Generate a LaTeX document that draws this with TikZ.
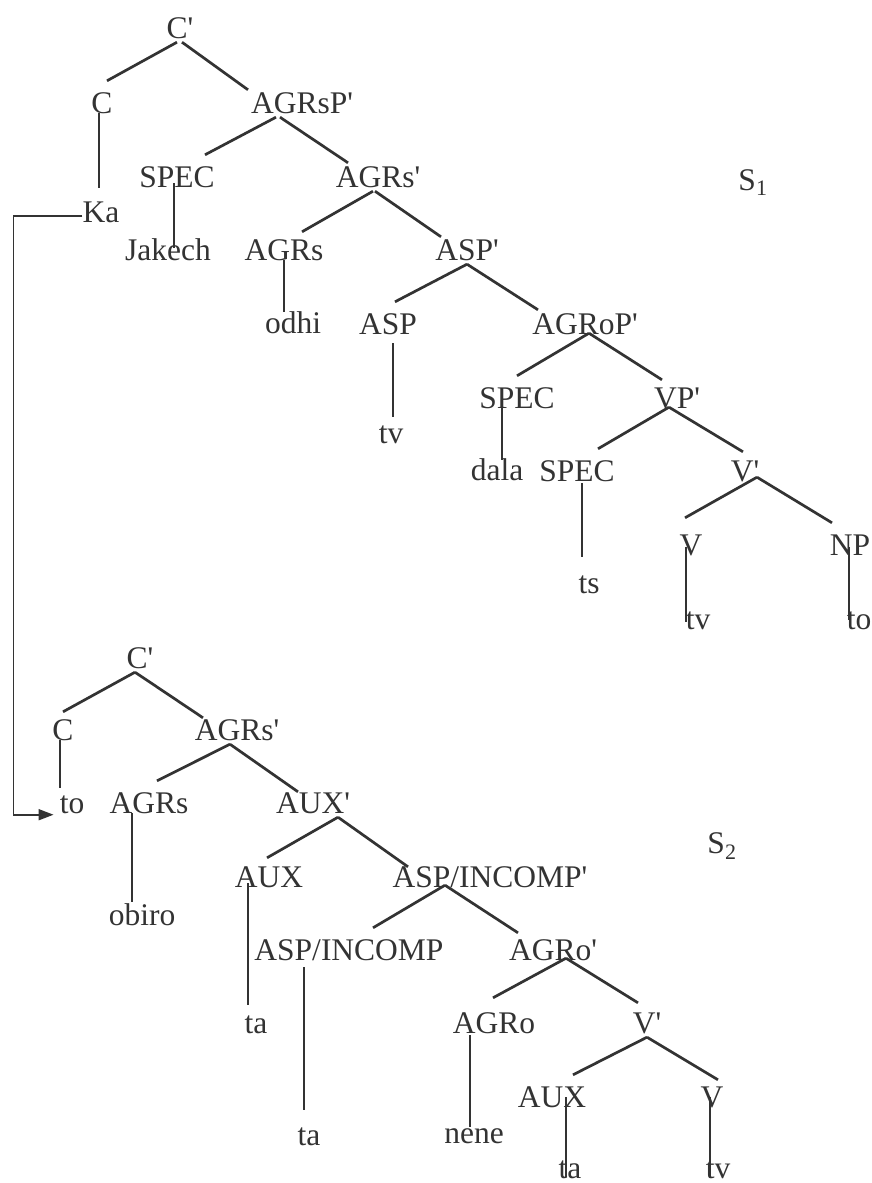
\documentclass[tikz,border=0pt]{standalone}
\usepackage{fontspec}
\setmainfont{Liberation Serif}
\usetikzlibrary{arrows.meta}
\definecolor{ink}{HTML}{333333}
\newcommand{\pbar}{\textquotesingle}

\begin{document}
\begin{tikzpicture}[x=1pt,y=-1pt,
    lbl/.style={inner sep=0pt,anchor=base,text height=32pt,text depth=4pt,
        text=ink,font=\fontsize{31.5}{36}\selectfont},
    branch/.style={draw=ink,line width=2.7pt},
    stem/.style={draw=ink,line width=1.7pt}]
    \useasboundingbox (0,0) rectangle (872,1183);

    % S1
    \node[lbl] at (180,38) (cA) {C\pbar};
    \node[lbl] at (102,113) (cB) {C};
    \node[lbl] at (302,113) (agrsp) {AGRsP\pbar};
    \node[lbl] at (101,222) (ka) {Ka};
    \node[lbl] at (177,187) (specA) {SPEC};
    \node[lbl] at (378,187) (agrsA) {AGRs\pbar};
    \node[lbl] at (168,260) (jakech) {Jakech};
    \node[lbl] at (284,260) (agrsB) {AGRs};
    \node[lbl] at (467,260) (aspp) {ASP\pbar};
    \node[lbl] at (293,333) (odhi) {odhi};
    \node[lbl] at (388,334) (asp) {ASP};
    \node[lbl] at (585,334) (agrop) {AGRoP\pbar};
    \node[lbl] at (391,443) (tvA) {tv};
    \node[lbl] at (517,408) (specB) {SPEC};
    \node[lbl] at (677,408) (vpp) {VP\pbar};
    \node[lbl] at (497,480) (dala) {dala};
    \node[lbl] at (577,481) (specC) {SPEC};
    \node[lbl] at (745,481) (vbarA) {V\pbar};
    \node[lbl] at (589,593) (ts) {ts};
    \node[lbl] at (691,555) (vA) {V};
    \node[lbl] at (850,555) (np) {NP};
    \node[lbl] at (698,629) (tvB) {tv};
    \node[lbl] at (859,629) (toA) {to};
    \node[lbl] at (753,190) (sA) {S\textsubscript{1}};

    \draw[branch] ([xshift=-3pt]cA.south) -- ([xshift=5pt]cB.north);
    \draw[branch] ([xshift=2pt]cA.south) -- ([xshift=-54pt,yshift=-9pt]agrsp.north);
    \draw[branch] ([xshift=-26pt]agrsp.south) -- ([xshift=28pt]specA.north);
    \draw[branch] ([xshift=-22pt]agrsp.south) -- ([xshift=-30pt,yshift=-8pt]agrsA.north);
    \draw[branch] ([xshift=-5pt]agrsA.south) -- ([xshift=18pt,yshift=-4pt]agrsB.north);
    \draw[branch] ([xshift=-3pt]agrsA.south) -- ([xshift=-26pt,yshift=-9pt]aspp.north);
    \draw[branch] (aspp.south) -- ([xshift=7pt]asp.north);
    \draw[branch] (aspp.south) -- ([xshift=-47pt,yshift=-8pt]agrop.north);
    \draw[branch] ([xshift=4pt,yshift=5pt]agrop.south) -- (specB.north);
    \draw[branch] ([xshift=4pt,yshift=5pt]agrop.south) -- ([xshift=-15pt,yshift=-4pt]vpp.north);
    \draw[branch] ([xshift=-8pt,yshift=5pt]vpp.south) -- ([xshift=21pt]specC.north);
    \draw[branch] ([xshift=-8pt,yshift=5pt]vpp.south) -- ([xshift=-2pt,yshift=-3pt]vbarA.north);
    \draw[branch] ([xshift=12pt,yshift=8pt]vbarA.south) -- ([xshift=-6pt,yshift=5pt]vA.north);
    \draw[branch] ([xshift=12pt,yshift=8pt]vbarA.south) -- ([xshift=-18pt]np.north);

    \draw[stem] ([xshift=-3pt]cB.base) -- ([xshift=-2pt,yshift=34pt]ka.base);
    \draw[stem] ([xshift=-3pt,yshift=4pt]specA.base) -- ([xshift=6pt,yshift=12pt]jakech.base);
    \draw[stem] (agrsB.base) -- ([xshift=-9pt,yshift=21pt]odhi.base);
    \draw[stem] ([xshift=5pt,yshift=-9pt]asp.base) -- ([xshift=2pt,yshift=26pt]tvA.base);
    \draw[stem] ([xshift=-15pt,yshift=1pt]specB.base) -- ([xshift=5pt,yshift=20pt]dala.base);
    \draw[stem] ([xshift=5pt,yshift=-2pt]specC.base) -- ([xshift=-7pt,yshift=36pt]ts.base);
    \draw[stem] ([xshift=-5pt,yshift=8pt]vA.base) -- ([xshift=-12pt,yshift=7pt]tvB.base);
    \draw[stem] ([xshift=-1pt,yshift=8pt]np.base) -- ([xshift=-10pt,yshift=9pt]toA.base);

    % S2
    \node[lbl] at (140,668) (cC) {C\pbar};
    \node[lbl] at (63,740) (cD) {C};
    \node[lbl] at (237,740) (agrsC) {AGRs\pbar};
    \node[lbl] at (72,813) (toB) {to};
    \node[lbl] at (149,813) (agrsD) {AGRs};
    \node[lbl] at (313,813) (auxp) {AUX\pbar};
    \node[lbl] at (142,925) (obiro) {obiro};
    \node[lbl] at (269,887) (auxA) {AUX};
    \node[lbl] at (490,887) (aspincp) {ASP/INCOMP\pbar};
    \node[lbl] at (256,1033) (taA) {ta};
    \node[lbl] at (349,960) (aspinc) {ASP/INCOMP};
    \node[lbl] at (553,960) (agrop2) {AGRo\pbar};
    \node[lbl] at (309,1145) (taB) {ta};
    \node[lbl] at (494,1033) (agro) {AGRo};
    \node[lbl] at (647,1033) (vbarB) {V\pbar};
    \node[lbl] at (474,1143) (nene) {nene};
    \node[lbl] at (552,1107) (auxB) {AUX};
    \node[lbl] at (712,1107) (vB) {V};
    \node[lbl] at (570,1178) (taC) {ta};
    \node[lbl] at (718,1178) (tvC) {tv};
    \node[lbl] at (722,853) (sB) {S\textsubscript{2}};

    \draw[branch] ([xshift=-5pt]cC.south) -- ([yshift=-4pt]cD.north);
    \draw[branch] ([xshift=-5pt]cC.south) -- ([xshift=-34pt,yshift=-10pt]agrsC.north);
    \draw[branch] ([xshift=-7pt]agrsC.south) -- ([xshift=8pt]agrsD.north);
    \draw[branch] ([xshift=-7pt]agrsC.south) -- ([xshift=-15pt,yshift=-11pt]auxp.north);
    \draw[branch] ([xshift=25pt]auxp.south) -- ([xshift=-2pt,yshift=-3pt]auxA.north);
    \draw[branch] ([xshift=25pt]auxp.south) -- ([xshift=-82pt,yshift=-12pt]aspincp.north);
    \draw[branch] ([xshift=-45pt,yshift=6pt]aspincp.south) -- ([xshift=24pt]aspinc.north);
    \draw[branch] ([xshift=-45pt,yshift=6pt]aspincp.south) -- ([xshift=-35pt,yshift=-5pt]agrop2.north);
    \draw[branch] ([xshift=13pt,yshift=6pt]agrop2.south) -- ([xshift=-1pt,yshift=3pt]agro.north);
    \draw[branch] ([xshift=13pt,yshift=6pt]agrop2.south) -- ([xshift=-9pt,yshift=-2pt]vbarB.north);
    \draw[branch] (vbarB.south) -- ([xshift=21pt]auxB.north);
    \draw[branch] (vbarB.south) -- ([xshift=6pt,yshift=-5pt]vB.north);

    \draw[stem] ([xshift=-3pt]cD.base) -- ([xshift=-12pt,yshift=25pt]toB.base);
    \draw[stem] ([xshift=-17pt]agrsD.base) -- ([xshift=-10pt,yshift=23pt]obiro.base);
    \draw[stem] ([xshift=-21pt,yshift=4pt]auxA.base) -- ([xshift=-8pt,yshift=28pt]taA.base);
    \draw[stem] ([xshift=-45pt,yshift=-7pt]aspinc.base) -- ([xshift=-5pt,yshift=35pt]taB.base);
    \draw[stem] ([xshift=-24pt,yshift=-2pt]agro.base) -- ([xshift=-4pt,yshift=16pt]nene.base);
    \draw[stem] ([xshift=14pt,yshift=10pt]auxB.base) -- ([xshift=-4pt,yshift=1pt]taC.base);
    \draw[stem] ([xshift=-2pt,yshift=10pt]vB.base) -- ([xshift=-8pt]tvC.base);

    % movement of Ka down to to
    \draw[stem,-{Triangle[length=15pt,width=11pt]}] ([yshift=4pt]ka.mid west) -- ++(-69,0)
        |- ([xshift=-6pt,yshift=-4pt]toB.mid west);
\end{tikzpicture}
\end{document}
